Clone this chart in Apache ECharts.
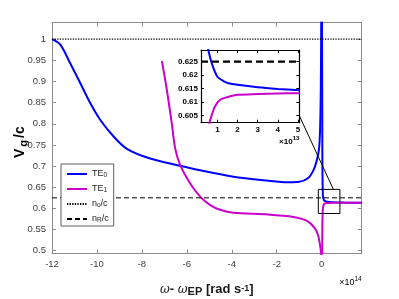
<!DOCTYPE html>
<html><head><meta charset="utf-8">
<script src="https://cdn.jsdelivr.net/npm/echarts@6/dist/echarts.min.js"></script>
<style>html,body{margin:0;padding:0;background:#fff}#c{width:399px;height:299px}</style>
</head><body><div id="c"></div>
<script>
// ---- data (main plot x in units of 1e14 rad/s) ----
const te0Left = [[-12,1.0],[-11.63,0.987],[-11.19,0.943],[-10.74,0.896],[-10.3,0.849],[-9.85,0.809],[-9.26,0.770],[-8.67,0.741],[-7.63,0.718],[-6.3,0.701],[-5.41,0.690],[-3.93,0.675],[-2.44,0.666],[-1.5,0.662],[-1.0,0.663],[-0.6,0.672],[-0.37,0.69],[-0.22,0.713],[-0.12,0.74],[-0.07,0.79],[-0.04,0.88],[-0.025,1.0],[-0.015,1.1]];
const te0Right = [[0.01,1.1],[0.02,0.9],[0.03,0.72],[0.04,0.66],[0.055,0.6293],[0.072,0.6244],[0.1,0.6194],[0.155,0.617],[0.2,0.6164],[0.3,0.6155],[0.4,0.6149],[0.5,0.6144],[1.0,0.6138],[1.78,0.6136]];
const te1Left = [[-7.11,0.948],[-6.89,0.88],[-6.67,0.801],[-6.52,0.742],[-6.3,0.703],[-5.85,0.659],[-5.41,0.628],[-4.96,0.608],[-4.52,0.597],[-3.93,0.590],[-2.44,0.586],[-1.26,0.580],[-0.67,0.571],[-0.3,0.553],[-0.15,0.535],[-0.08,0.515],[-0.04,0.5],[-0.02,0.47]];
const te1Right = [[0.015,0.45],[0.03,0.56],[0.045,0.593],[0.06,0.6022],[0.072,0.6052],[0.087,0.6083],[0.112,0.6108],[0.155,0.612],[0.2,0.6127],[0.3,0.613],[0.5,0.6133],[1.0,0.6134],[1.78,0.6135]];
const noLine = [[-12,1.0],[1.78,1.0]];
const nRLine = [[-12,0.625],[1.78,0.625]];
// ---- inset data (x in units of 1e13 rad/s) ----
const te0Zoom = [[0.45,0.634],[0.55,0.6293],[0.72,0.6244],[1.0,0.6194],[1.3,0.6178],[1.55,0.617],[2.0,0.6164],[3.0,0.6155],[4.0,0.6149],[5.1,0.6144]];
const te1Zoom = [[0.5,0.598],[0.6,0.6022],[0.72,0.6052],[0.87,0.6083],[1.12,0.6108],[1.55,0.612],[2.0,0.6127],[3.0,0.613],[4.0,0.6132],[5.1,0.6133]];
const nRZoom = [[0.185,0.625],[5.07,0.625]];
// ---- axes ranges / tick steps ----
const xMainRange = [-12, 1.78], xMainStep = 2;
const yMainRange = [0.493, 1.039], yMainStep = 0.05;
const xZoomRange = [0.185, 5.07], xZoomStep = 1;
const yZoomRange = [0.6024, 0.6293], yZoomStep = 0.005;
// zoom-box annotation in main data coords [x0,y0,x1,y1], and connector endpoints
const zoomBox = [-0.15, 0.588, 0.81, 0.645];
const connectMain = [0.52, 0.645];
const connectZoom = [5.07, 0.605];

const FONT = '"Liberation Sans", Arial, sans-serif';
const GREY = '#8c8c8c', LBL = '#404040', INK = '#1a1a1a';
const BLUE = '#0000ff', MAG = '#cc00cc';

function mult(step, digits){
  return v => Math.abs(v/step - Math.round(v/step)) < 1e-6 ? String(parseFloat(v.toFixed(digits))) : '';
}
// ticks: ECharts picks nice ticks (multiples of step) when the range/splitNumber yields that step
function tickCfg(range, step){
  if (Math.abs(range[0]/step - Math.round(range[0]/step)) < 1e-9) return {interval:step};
  return {splitNumber: Math.round((range[1]-range[0])/step)};
}
function mainAxis(pos, range, step, digits, show, extra){
  return Object.assign({
    type:'value', gridIndex:0, position:pos, min:range[0], max:range[1],
    axisLine:{show:true, onZero:false, lineStyle:{color:GREY, width:1}},
    axisTick:{show:true, inside:true, length:4, lineStyle:{color:GREY}},
    splitLine:{show:false},
    axisLabel:{show:show, fontSize:9.5, color:LBL, fontFamily:FONT, margin:6, formatter:mult(step,digits), showMinLabel:true, showMaxLabel:true}
  }, tickCfg(range, step), extra||{});
}
function zoomAxis(pos, range, step, digits, show){
  return Object.assign({
    type:'value', gridIndex:1, position:pos, min:range[0], max:range[1],
    axisLine:{show:true, onZero:false, lineStyle:{color:'#000', width:1.2}},
    axisTick:{show:true, inside:true, length:3, lineStyle:{color:'#000'}},
    splitLine:{show:false},
    axisLabel:{show:show, fontSize:8, fontWeight:'bold', color:'#000', fontFamily:FONT, margin:3, formatter:mult(step,digits)}
  }, tickCfg(range, step));
}

const chart = echarts.init(document.getElementById('c'), null, {renderer:'canvas'});
const SM = 0.3;
const option = {
  animation:false,
  backgroundColor:'#fff',
  textStyle:{fontFamily:FONT},
  grid:[
    {left:52, right:37.3, top:22.7, bottom:45.3, containLabel:false, outerBoundsMode:'none'},
    {left:201, right:99.7, top:50, bottom:176.3, show:true, backgroundColor:'#fff', borderWidth:0, containLabel:false, outerBoundsMode:'none'}
  ],
  xAxis:[
    mainAxis('bottom',xMainRange,xMainStep,0,true,{
      name:'{w|ω}{b|- }{w|ω}{s|EP}{b| [rad s}{p|-1}{b|]}',
      nameLocation:'middle', nameGap:30, nameMoveOverlap:false,
      nameTextStyle:{color:INK, rich:{
        w:{fontSize:12, fontStyle:'italic', fontFamily:'"DejaVu Serif", serif', color:INK, verticalAlign:'bottom', lineHeight:14, padding:[0,0,2,0]},
        b:{fontSize:13, fontWeight:'bold', fontFamily:FONT, color:INK, verticalAlign:'bottom', lineHeight:14, padding:[0,0,2,0]},
        s:{fontSize:11, fontWeight:'bold', fontFamily:FONT, color:INK, verticalAlign:'bottom', lineHeight:12, padding:[4,0,0,0]},
        p:{fontSize:9, fontWeight:'bold', fontFamily:FONT, color:INK, verticalAlign:'top', lineHeight:10, padding:[0,0,6,0]}
      }}
    }),
    mainAxis('top',xMainRange,xMainStep,0,false),
    zoomAxis('bottom',xZoomRange,xZoomStep,0,true),
    zoomAxis('top',xZoomRange,xZoomStep,0,false)
  ],
  yAxis:[
    mainAxis('left',yMainRange,yMainStep,2,true,{
      name:'{v|V}{g|g}{c|/c}',
      nameLocation:'middle', nameGap:23, nameMoveOverlap:false,
      nameTextStyle:{color:'#000', padding:[0,8,0,0], rich:{
        v:{fontSize:14, fontWeight:'bold', fontFamily:FONT, color:'#000', verticalAlign:'top', lineHeight:16, padding:[0,1,0,0]},
        g:{fontSize:11, fontWeight:'bold', fontFamily:FONT, color:'#000', verticalAlign:'bottom', lineHeight:12, padding:[8,2,0,1]},
        c:{fontSize:14, fontWeight:'bold', fontFamily:FONT, color:'#000', verticalAlign:'top', lineHeight:16}
      }}
    }),
    mainAxis('right',yMainRange,yMainStep,2,false),
    zoomAxis('left',yZoomRange,yZoomStep,3,true),
    zoomAxis('right',yZoomRange,yZoomStep,3,false)
  ],
  legend:{
    orient:'vertical', left:61, top:164,
    data:['TE0','TE1','no','nR'],
    itemWidth:20, itemHeight:8, itemGap:3,
    padding:[3,5,2,5],
    backgroundColor:'#fff', borderColor:'#333', borderWidth:0.8, borderRadius:0,
    itemStyle:{opacity:0},
    textStyle:{fontSize:9, color:INK, fontFamily:FONT, rich:{
      a:{fontSize:9, color:INK, fontFamily:FONT, verticalAlign:'top', lineHeight:10},
      s:{fontSize:6.5, color:INK, fontFamily:FONT, verticalAlign:'bottom', lineHeight:7, padding:[5,0,0,0]}
    }},
    formatter: function(n){
      return {TE0:'{a|TE}{s|0}', TE1:'{a|TE}{s|1}', no:'{a|n}{s|o}{a|/c}', nR:'{a|n}{s|R}{a|/c}'}[n];
    }
  },
  series:[
    {name:'TE0', type:'line', xAxisIndex:0, yAxisIndex:0, data:te0Left, showSymbol:false, symbol:'none', smooth:SM, lineStyle:{color:BLUE, width:2}, itemStyle:{color:BLUE}},
    {name:'TE0', type:'line', xAxisIndex:0, yAxisIndex:0, data:te0Right, showSymbol:false, symbol:'none', smooth:SM, lineStyle:{color:BLUE, width:2}, itemStyle:{color:BLUE}},
    {name:'TE1', type:'line', xAxisIndex:0, yAxisIndex:0, data:te1Left, showSymbol:false, symbol:'none', smooth:SM, lineStyle:{color:MAG, width:2}, itemStyle:{color:MAG}},
    {name:'TE1', type:'line', xAxisIndex:0, yAxisIndex:0, data:te1Right, showSymbol:false, symbol:'none', smooth:SM, lineStyle:{color:MAG, width:2}, itemStyle:{color:MAG}},
    {name:'no', type:'line', xAxisIndex:0, yAxisIndex:0, data:noLine, showSymbol:false, symbol:'none', lineStyle:{color:'#000', width:1.3, type:[1.3,1.3]}, itemStyle:{color:'#000'}},
    {name:'nR', type:'line', xAxisIndex:0, yAxisIndex:0, data:nRLine, showSymbol:false, symbol:'none', lineStyle:{color:'#000', width:1, type:[5,3]}, itemStyle:{color:'#000'}},
    {name:'TE0', type:'line', xAxisIndex:2, yAxisIndex:2, data:te0Zoom, showSymbol:false, symbol:'none', smooth:SM, lineStyle:{color:BLUE, width:2}, itemStyle:{color:BLUE}},
    {name:'TE1', type:'line', xAxisIndex:2, yAxisIndex:2, data:te1Zoom, showSymbol:false, symbol:'none', smooth:SM, lineStyle:{color:MAG, width:2}, itemStyle:{color:MAG}},
    {name:'nR', type:'line', xAxisIndex:2, yAxisIndex:2, data:nRZoom, showSymbol:false, symbol:'none', lineStyle:{color:'#000', width:2.2, type:[7,4]}, itemStyle:{color:'#000'}}
  ]
};
chart.setOption(option);

const p0 = chart.convertToPixel({xAxisIndex:0, yAxisIndex:0}, [zoomBox[0], zoomBox[3]]);
const p1 = chart.convertToPixel({xAxisIndex:0, yAxisIndex:0}, [zoomBox[2], zoomBox[1]]);
const cM = chart.convertToPixel({xAxisIndex:0, yAxisIndex:0}, connectMain);
const cZ = chart.convertToPixel({xAxisIndex:2, yAxisIndex:2}, connectZoom);
const gMain = chart.convertToPixel({xAxisIndex:0, yAxisIndex:0}, [xMainRange[1], yMainRange[0]]);
const gZoom = chart.convertToPixel({xAxisIndex:2, yAxisIndex:2}, [xZoomRange[1], yZoomRange[0]]);
chart.setOption({graphic:[
  {type:'rect', shape:{x:p0[0], y:p0[1], width:p1[0]-p0[0], height:p1[1]-p0[1]}, style:{fill:'none', stroke:'#000', lineWidth:1}, z:10},
  {type:'line', shape:{x1:cZ[0], y1:cZ[1], x2:cM[0], y2:cM[1]}, style:{stroke:'#000', lineWidth:1}, z:10},
  {type:'text', x:gMain[0], y:gMain[1]+22, style:{text:'{m|×10}{e|14}', align:'right', verticalAlign:'top', rich:{
     m:{fontSize:9, color:LBL, fontFamily:FONT, verticalAlign:'bottom', lineHeight:11},
     e:{fontSize:6.5, color:LBL, fontFamily:FONT, verticalAlign:'top', lineHeight:7, padding:[0,0,4,0]}}}, z:10},
  {type:'text', x:gZoom[0], y:gZoom[1]+13, style:{text:'{m|×10}{e|13}', align:'right', verticalAlign:'top', rich:{
     m:{fontSize:8, fontWeight:'bold', color:'#000', fontFamily:FONT, verticalAlign:'bottom', lineHeight:10},
     e:{fontSize:6, fontWeight:'bold', color:'#000', fontFamily:FONT, verticalAlign:'top', lineHeight:6, padding:[0,0,4,0]}}}, z:10}
]});
</script></body></html>
